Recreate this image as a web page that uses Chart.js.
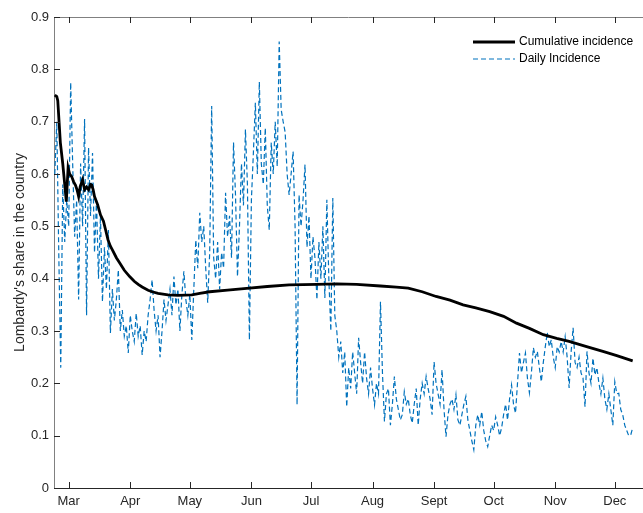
<!DOCTYPE html>
<html>
<head>
<meta charset="utf-8">
<script src="https://cdn.jsdelivr.net/npm/chart.js@4.4.0/dist/chart.umd.min.js"></script>
<style>
    html, body { margin: 0; padding: 0; background: #ffffff; }
    canvas { display: block; }
</style>
</head>
<body>
<canvas id="myChart" width="643" height="513"></canvas>
<script>
// Дни отсчитываются от 1 марта (0 = 1 марта)
const monthDays = [0, 31, 61, 92, 122, 153, 184, 214, 245, 275];
const monthLabels = ['Mar', 'Apr', 'May', 'Jun', 'Jul', 'Aug', 'Sept', 'Oct', 'Nov', 'Dec'];
const yTicks = [0, 0.1, 0.2, 0.3, 0.4, 0.5, 0.6, 0.7, 0.8, 0.9];

// Ежедневная доля (первый день = 22 февраля)
const firstDay = -7;
const dailyIncidence = [
    0.60, 0.70, 0.45, 0.23, 0.58, 0.47, 0.55, 0.50, 0.775, 0.62,
    0.48, 0.55, 0.36, 0.62, 0.50, 0.705, 0.33, 0.65, 0.52, 0.64,
    0.45, 0.55, 0.40, 0.52, 0.356, 0.46, 0.38, 0.493, 0.296, 0.38,
    0.32, 0.36, 0.417, 0.30, 0.34, 0.29, 0.31, 0.258, 0.33, 0.30,
    0.28, 0.334, 0.29, 0.31, 0.254, 0.30, 0.28, 0.33, 0.36, 0.398,
    0.34, 0.30, 0.33, 0.25, 0.30, 0.36, 0.32, 0.35, 0.38, 0.33,
    0.404, 0.35, 0.38, 0.30, 0.37, 0.414, 0.36, 0.33, 0.37, 0.283,
    0.38, 0.474, 0.42, 0.526, 0.47, 0.50, 0.42, 0.354, 0.45, 0.73,
    0.44, 0.40, 0.47, 0.38, 0.45, 0.42, 0.564, 0.48, 0.52, 0.44,
    0.66, 0.56, 0.404, 0.50, 0.62, 0.54, 0.685, 0.58, 0.283, 0.55,
    0.64, 0.736, 0.60, 0.776, 0.62, 0.58, 0.688, 0.54, 0.493, 0.66,
    0.60, 0.70, 0.614, 0.853, 0.723, 0.70, 0.68, 0.60, 0.56, 0.60,
    0.643, 0.50, 0.159, 0.56, 0.50, 0.55, 0.618, 0.46, 0.52, 0.40,
    0.48, 0.44, 0.36, 0.47, 0.40, 0.50, 0.363, 0.551, 0.40, 0.30,
    0.554, 0.33, 0.30, 0.25, 0.28, 0.22, 0.26, 0.155, 0.23, 0.19,
    0.26, 0.22, 0.18, 0.287, 0.24, 0.20, 0.26, 0.21, 0.18, 0.23,
    0.19, 0.159, 0.20, 0.18, 0.356, 0.22, 0.127, 0.18, 0.19, 0.12,
    0.16, 0.213, 0.17, 0.15, 0.13, 0.14, 0.184, 0.16, 0.17, 0.14,
    0.124, 0.16, 0.19, 0.12, 0.17, 0.20, 0.18, 0.213, 0.19, 0.17,
    0.14, 0.241, 0.20, 0.18, 0.16, 0.226, 0.15, 0.098, 0.14, 0.16,
    0.17, 0.15, 0.178, 0.13, 0.12, 0.14, 0.16, 0.175, 0.13, 0.11,
    0.09, 0.073, 0.12, 0.14, 0.12, 0.146, 0.11, 0.09, 0.079, 0.10,
    0.12, 0.11, 0.136, 0.12, 0.10, 0.115, 0.14, 0.16, 0.13, 0.17,
    0.197, 0.16, 0.143, 0.20, 0.258, 0.22, 0.24, 0.258, 0.21, 0.182,
    0.22, 0.268, 0.25, 0.261, 0.23, 0.203, 0.24, 0.27, 0.297, 0.27,
    0.283, 0.25, 0.23, 0.27, 0.26, 0.28, 0.26, 0.289, 0.25, 0.191,
    0.26, 0.306, 0.24, 0.23, 0.25, 0.22, 0.21, 0.155, 0.261, 0.22,
    0.20, 0.248, 0.216, 0.23, 0.20, 0.18, 0.21, 0.17, 0.15, 0.18,
    0.15, 0.12, 0.203, 0.18, 0.181, 0.15, 0.14, 0.12, 0.11, 0.10,
    0.101, 0.115
];

// Кумулятивная доля
const cumDays = [
    -7, -6, -5.5, -4.2, -3, -2, -1.2, -0.3, 0.5, 1.5,
    2.5, 3.4, 4.2, 5, 5.8, 7, 8, 9, 10, 11,
    11.6, 12.3, 13, 14.6, 16, 17.5, 18.6, 19.8, 21, 22,
    24, 25.7, 28, 30.7, 33, 35, 37, 40, 42, 45,
    50, 55, 62, 66, 71, 80, 91, 100, 111, 125,
    135, 145, 157, 165, 171, 178, 185, 192, 198.6, 205,
    212, 219, 225.5, 232, 239, 245.7, 252, 260.8, 269, 276,
    284
];
const cumValues = [
    0.751, 0.748, 0.74, 0.66, 0.62, 0.58, 0.547, 0.612, 0.60, 0.595,
    0.585, 0.579, 0.57, 0.557, 0.576, 0.589, 0.57, 0.575, 0.57, 0.58,
    0.579, 0.57, 0.557, 0.541, 0.522, 0.51, 0.493, 0.474, 0.462, 0.455,
    0.44, 0.43, 0.416, 0.404, 0.395, 0.389, 0.384, 0.378, 0.375, 0.372,
    0.369, 0.368, 0.369, 0.372, 0.375, 0.378, 0.382, 0.385, 0.388, 0.389,
    0.39, 0.389, 0.386, 0.384, 0.382, 0.375, 0.366, 0.359, 0.35, 0.344,
    0.337, 0.328, 0.315, 0.305, 0.293, 0.286, 0.28, 0.27, 0.261, 0.253,
    0.243
];

const fontFamily = "'Liberation Sans', Arial, Helvetica, sans-serif";
const axisColor = '#262626';

// Рамка сверху, засечки внутрь, подпись оси Y и легенда
const matlabPlugin = {
    id: 'matlabPlugin',
    afterDraw(chart) {
        const ctx = chart.ctx;
        const area = chart.chartArea;
        const xs = chart.scales.x;
        const ys = chart.scales.y;
        ctx.save();
        ctx.strokeStyle = '#808080';
        ctx.lineWidth = 1;
        ctx.beginPath();
        ctx.moveTo(area.left, area.top + 0.5);
        ctx.lineTo(area.right, area.top + 0.5);
        ctx.stroke();

        ctx.strokeStyle = axisColor;
        ctx.beginPath();
        monthDays.forEach((d) => {
            const x = Math.round(xs.getPixelForValue(d)) + 0.5;
            ctx.moveTo(x, area.bottom);
            ctx.lineTo(x, area.bottom - 6);
            ctx.moveTo(x, area.top);
            ctx.lineTo(x, area.top + 6);
        });
        yTicks.forEach((v) => {
            const y = Math.round(ys.getPixelForValue(v)) + 0.5;
            ctx.moveTo(area.left, y);
            ctx.lineTo(area.left + 6, y);
        });
        ctx.stroke();

        // подпись оси Y
        ctx.fillStyle = axisColor;
        ctx.font = '14px ' + fontFamily;
        ctx.textAlign = 'center';
        ctx.textBaseline = 'middle';
        ctx.translate(20, (area.top + area.bottom) / 2);
        ctx.rotate(-Math.PI / 2);
        ctx.fillText("Lombardy's share in the country", 0, 0);
        ctx.setTransform(1, 0, 0, 1, 0, 0);

        // легенда
        ctx.lineWidth = 2.8;
        ctx.strokeStyle = '#000000';
        ctx.beginPath();
        ctx.moveTo(473, 42);
        ctx.lineTo(515, 42);
        ctx.stroke();
        ctx.lineWidth = 1.2;
        ctx.strokeStyle = '#0072BD';
        ctx.setLineDash([5, 3]);
        ctx.beginPath();
        ctx.moveTo(473, 59);
        ctx.lineTo(515, 59);
        ctx.stroke();
        ctx.setLineDash([]);
        ctx.font = '12px ' + fontFamily;
        ctx.textAlign = 'left';
        ctx.fillStyle = '#000000';
        ctx.fillText('Cumulative incidence', 519, 42);
        ctx.fillText('Daily Incidence', 519, 59);
        ctx.restore();
    }
};

const ctx = document.getElementById('myChart').getContext('2d');
window.chart = new Chart(ctx, {
    type: 'line',
    data: {
        datasets: [{
            label: 'Cumulative incidence',
            data: cumDays.map((d, i) => ({ x: d, y: cumValues[i] })),
            borderColor: '#000000',
            borderWidth: 2.8,
            pointRadius: 0,
            tension: 0,
            order: 0
        }, {
            label: 'Daily Incidence',
            data: dailyIncidence.map((v, i) => ({ x: firstDay + i, y: v })),
            borderColor: '#0072BD',
            borderWidth: 1.2,
            borderDash: [5, 3],
            pointRadius: 0,
            tension: 0,
            order: 1
        }]
    },
    options: {
        responsive: false,
        animation: false,
        devicePixelRatio: 1,
        layout: {
            padding: { top: 17, right: 0, left: 0, bottom: 0 }
        },
        plugins: {
            legend: { display: false },
            tooltip: { enabled: false }
        },
        scales: {
            x: {
                type: 'linear',
                min: -7.4,
                max: 289.2,
                afterBuildTicks: (scale) => {
                    scale.ticks = monthDays.map((d) => ({ value: d }));
                },
                afterFit: (scale) => {
                    scale.height = 25;
                },
                grid: { display: false, drawTicks: false },
                border: { color: axisColor, width: 1 },
                ticks: {
                    autoSkip: false,
                    maxRotation: 0,
                    padding: 6,
                    color: axisColor,
                    font: { size: 13, family: fontFamily },
                    callback: (value) => monthLabels[monthDays.indexOf(value)]
                }
            },
            y: {
                min: 0,
                max: 0.9,
                afterBuildTicks: (scale) => {
                    scale.ticks = yTicks.map((v) => ({ value: v }));
                },
                afterFit: (scale) => {
                    scale.width = 54;
                },
                grid: { display: false, drawTicks: false },
                border: { color: '#808080', width: 1 },
                ticks: {
                    padding: 5,
                    color: axisColor,
                    font: { size: 13, family: fontFamily },
                    callback: (value) => String(Number(value.toFixed(1)))
                }
            }
        }
    },
    plugins: [matlabPlugin]
});
</script>
</body>
</html>
